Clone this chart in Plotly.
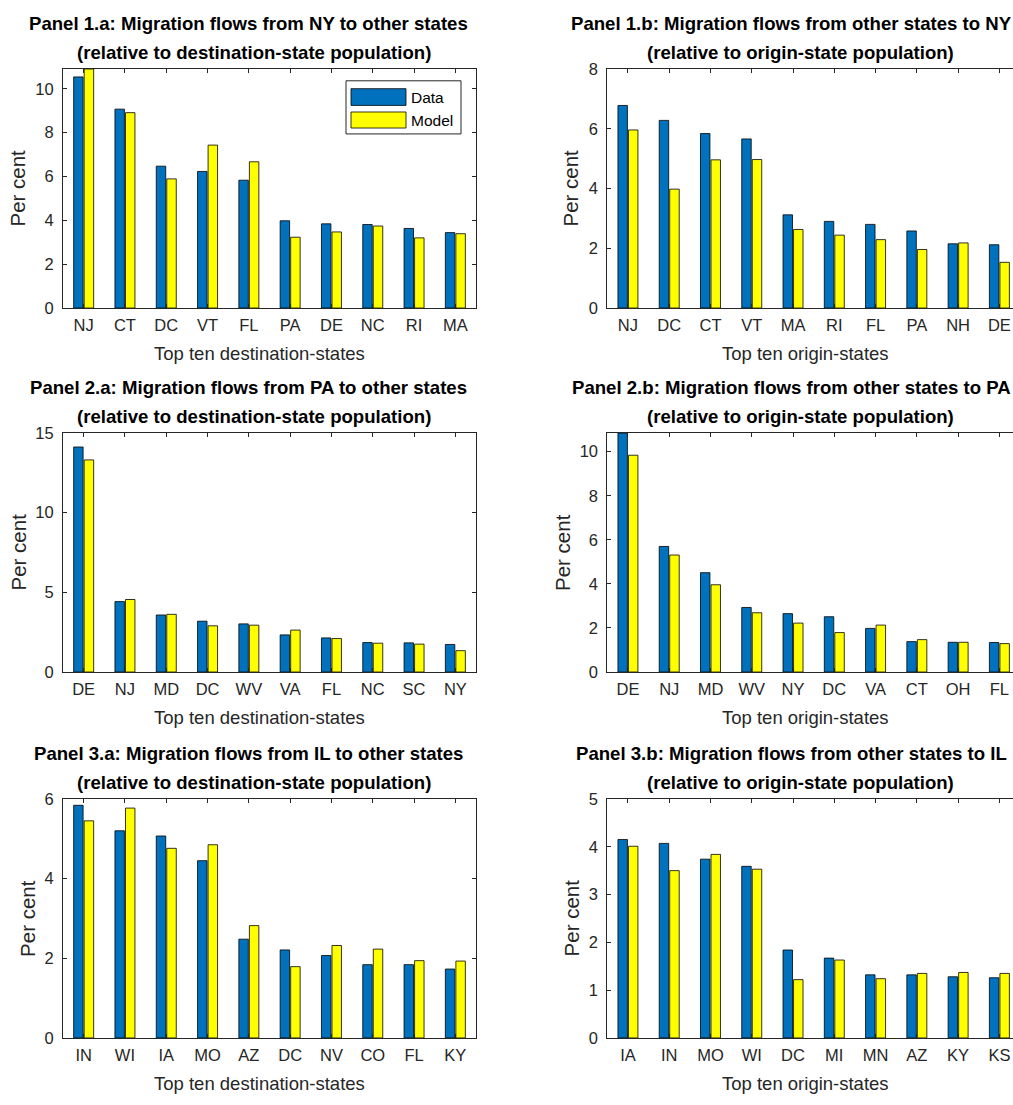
import plotly.graph_objects as go

W, H = 1013, 1105

# ---- values (per cent) ----
p1a_states = ["NJ", "CT", "DC", "VT", "FL", "PA", "DE", "NC", "RI", "MA"]
p1a_data = [10.54, 9.07, 6.47, 6.23, 5.83, 3.98, 3.84, 3.81, 3.63, 3.44]
p1a_model = [10.90, 8.91, 5.89, 7.43, 6.67, 3.23, 3.47, 3.74, 3.20, 3.39]

p1b_states = ["NJ", "DC", "CT", "VT", "MA", "RI", "FL", "PA", "NH", "DE"]
p1b_data = [6.78, 6.28, 5.84, 5.66, 3.12, 2.90, 2.80, 2.58, 2.15, 2.12]
p1b_model = [5.96, 3.98, 4.96, 4.97, 2.63, 2.44, 2.29, 1.96, 2.18, 1.53]

p2a_states = ["DE", "NJ", "MD", "DC", "WV", "VA", "FL", "NC", "SC", "NY"]
p2a_data = [14.12, 4.42, 3.58, 3.19, 3.02, 2.33, 2.14, 1.85, 1.83, 1.73]
p2a_model = [13.31, 4.55, 3.62, 2.90, 2.94, 2.63, 2.10, 1.81, 1.75, 1.34]

p2b_states = ["DE", "NJ", "MD", "WV", "NY", "DC", "VA", "CT", "OH", "FL"]
p2b_data = [10.85, 5.70, 4.51, 2.93, 2.65, 2.51, 1.98, 1.38, 1.35, 1.34]
p2b_model = [9.84, 5.31, 3.96, 2.69, 2.22, 1.79, 2.13, 1.47, 1.35, 1.29]

p3a_states = ["IN", "WI", "IA", "MO", "AZ", "DC", "NV", "CO", "FL", "KY"]
p3a_data = [5.84, 5.20, 5.07, 4.45, 2.48, 2.21, 2.07, 1.84, 1.84, 1.73]
p3a_model = [5.45, 5.77, 4.76, 4.85, 2.82, 1.79, 2.32, 2.23, 1.94, 1.93]

p3b_states = ["IA", "IN", "MO", "WI", "DC", "MI", "MN", "AZ", "KY", "KS"]
p3b_data = [4.15, 4.07, 3.74, 3.59, 1.84, 1.67, 1.32, 1.32, 1.28, 1.26]
p3b_model = [4.01, 3.50, 3.84, 3.53, 1.22, 1.63, 1.24, 1.35, 1.37, 1.35]

titles_a = [
    "Panel 1.a: Migration flows from NY to other states",
    "Panel 2.a: Migration flows from PA to other states",
    "Panel 3.a: Migration flows from IL to other states",
]
titles_b = [
    "Panel 1.b: Migration flows from other states to NY",
    "Panel 2.b: Migration flows from other states to PA",
    "Panel 3.b: Migration flows from other states to IL",
]
sub_a = "(relative to destination-state population)"
sub_b = "(relative to origin-state population)"
xlab_a = "Top ten destination-states"
xlab_b = "Top ten origin-states"
ylab = "Per cent"

y_ranges = [[0, 10.9], [0, 8], [0, 15], [0, 10.85], [0, 6], [0, 5]]
y_ticks = [
    [0, 2, 4, 6, 8, 10],
    [0, 2, 4, 6, 8],
    [0, 5, 10, 15],
    [0, 2, 4, 6, 8, 10],
    [0, 2, 4, 6],
    [0, 1, 2, 3, 4, 5],
]

BLUE = "#0072BD"
YELLOW = "#FFFF00"
AX = "#262626"
FONT = "Arial, Liberation Sans, sans-serif"


def px(x):
    return x / W


def py(y):
    return 1 - y / H


panels = [
    (p1a_states, p1a_data, p1a_model),
    (p1b_states, p1b_data, p1b_model),
    (p2a_states, p2a_data, p2a_model),
    (p2b_states, p2b_data, p2b_model),
    (p3a_states, p3a_data, p3a_model),
    (p3b_states, p3b_data, p3b_model),
]

# plot-area pixel boxes: (left, right, top, bottom)
row_tops = [61, 431, 803]
row_h = 243
left_box = (63, 476)
right_box = (607.3, 1013)

fig = go.Figure()
layout = dict(
    width=W,
    height=H,
    margin=dict(l=0, r=0, t=0, b=0),
    paper_bgcolor="white",
    plot_bgcolor="white",
    showlegend=False,
    barmode="group",
    bargap=0.49,
    bargroupgap=0.1,
    font=dict(family=FONT, color=AX, size=16),
)
annotations = []
shapes = []

for i, (states, data, model) in enumerate(panels):
    row, col = divmod(i, 2)
    n = i + 1
    xa = "x" if n == 1 else f"x{n}"
    ya = "y" if n == 1 else f"y{n}"
    top = row_tops[row]
    bottom = top + row_h
    lft, rgt = left_box if col == 0 else right_box

    fig.add_trace(go.Bar(
        x=states, y=data, name="Data", xaxis=xa, yaxis=ya,
        marker=dict(color=BLUE, line=dict(color="black", width=0.8)),
    ))
    fig.add_trace(go.Bar(
        x=states, y=model, name="Model", xaxis=xa, yaxis=ya,
        marker=dict(color=YELLOW, line=dict(color="black", width=0.8)),
    ))

    xr = [-0.5, 9.5] if col == 0 else [-0.5, 9.33]
    layout["xaxis" if n == 1 else f"xaxis{n}"] = dict(
        domain=[px(lft), px(rgt)], anchor=ya, range=xr, type="category",
        showline=True, linecolor=AX, linewidth=1, mirror="ticks",
        ticks="inside", ticklen=4, tickcolor=AX, tickwidth=1,
        tickfont=dict(size=16.5, color=AX), ticklabelstandoff=2,
        showgrid=False, zeroline=False, fixedrange=True,
    )
    layout["yaxis" if n == 1 else f"yaxis{n}"] = dict(
        domain=[py(bottom), py(top)], anchor=xa, range=y_ranges[i],
        tickvals=y_ticks[i], showline=True, linecolor=AX, linewidth=1,
        mirror="ticks" if col == 0 else False,
        ticks="inside", ticklen=4, tickcolor=AX, tickwidth=1,
        tickfont=dict(size=16.5, color=AX), ticklabelstandoff=5,
        showgrid=False, zeroline=False, fixedrange=True,
    )

    # panel titles (two lines)
    t1 = titles_a[row] if col == 0 else titles_b[row]
    t2 = sub_a if col == 0 else sub_b
    c1 = [248, 791][col]
    c2 = [254, 800.5][col]
    annotations.append(dict(
        text=f"<b>{t1}</b>", x=px(c1), y=py(top - 46), xref="paper", yref="paper",
        xanchor="center", yanchor="middle", showarrow=False,
        font=dict(size=18.6, color="black", family=FONT),
    ))
    annotations.append(dict(
        text=f"<b>{t2}</b>", x=px(c2), y=py(top - 17), xref="paper", yref="paper",
        xanchor="center", yanchor="middle", showarrow=False,
        font=dict(size=18.6, color="black", family=FONT),
    ))
    # x-axis label
    xl = xlab_a if col == 0 else xlab_b
    annotations.append(dict(
        text=xl, x=px([259, 805][col]), y=py(bottom + 46), xref="paper", yref="paper",
        xanchor="center", yanchor="middle", showarrow=False,
        font=dict(size=18.5, color=AX, family=FONT),
    ))
    # y-axis label
    ylx = [[18, 571], [18, 562.5], [27.5, 571]][row][col]
    annotations.append(dict(
        text=ylab, x=px(ylx), y=py((top + bottom) / 2), xref="paper", yref="paper",
        xanchor="center", yanchor="middle", showarrow=False, textangle=-90,
        font=dict(size=20.5, color=AX, family=FONT),
    ))

# legend box in panel 1.a
shapes.append(dict(type="rect", xref="paper", yref="paper",
                   x0=px(346), x1=px(461), y0=py(127), y1=py(73),
                   line=dict(color=AX, width=1), fillcolor="white", layer="above"))
for (y0, y1, colr, lab) in [(81, 98, BLUE, "Data"), (104.7, 121, YELLOW, "Model")]:
    shapes.append(dict(type="rect", xref="paper", yref="paper",
                       x0=px(351), x1=px(406), y0=py(y1), y1=py(y0),
                       line=dict(color="black", width=0.8), fillcolor=colr, layer="above"))
    annotations.append(dict(
        text=lab, x=px(409), y=py((y0 + y1) / 2), xref="paper", yref="paper",
        xanchor="left", yanchor="middle", showarrow=False,
        font=dict(size=15.5, color="black", family=FONT),
    ))

layout["annotations"] = annotations
layout["shapes"] = shapes
fig.update_layout(**layout)
fig.write_html("out.html")
